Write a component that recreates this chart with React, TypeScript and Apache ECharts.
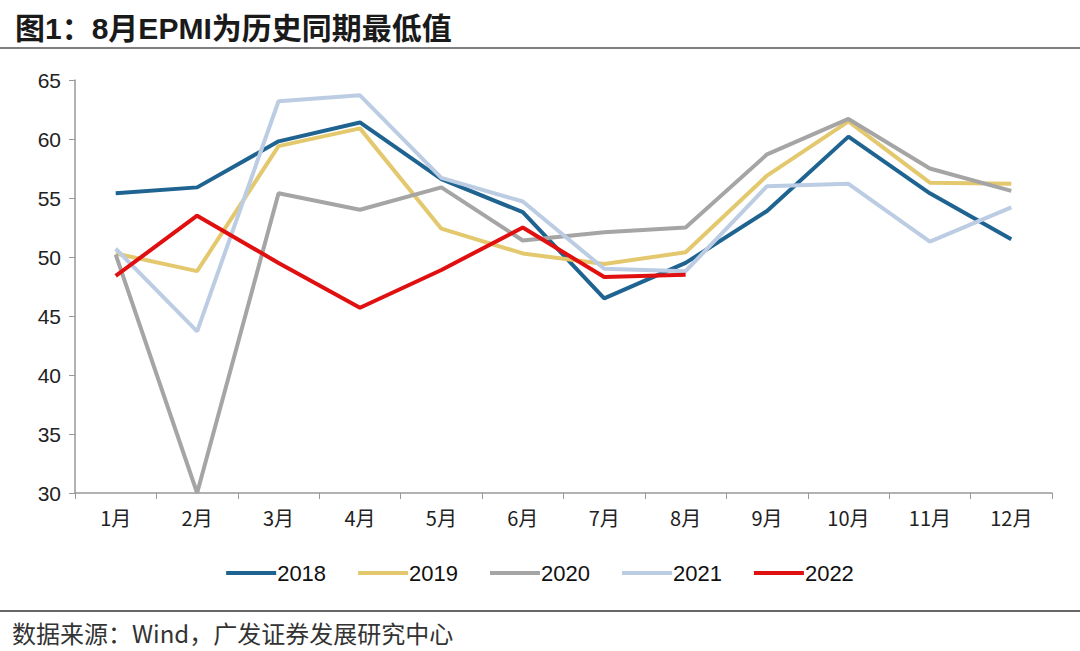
import React, { useEffect, useRef } from "react";
import * as echarts from "echarts";

const months = ["1月", "2月", "3月", "4月", "5月", "6月", "7月", "8月", "9月", "10月", "11月", "12月"];
const years = ["2018", "2019", "2020", "2021", "2022"];
const s2018 = [55.4, 55.9, 59.8, 61.4, 56.6, 53.8, 46.5, 49.5, 53.9, 60.2, 55.4, 51.5];
const s2019 = [50.3, 48.8, 59.4, 60.9, 52.4, 50.3, 49.4, 50.4, 56.9, 61.5, 56.3, 56.2];
const s2020 = [50.2, 30.0, 55.4, 54.0, 55.9, 51.4, 52.1, 52.5, 58.7, 61.7, 57.5, 55.6];
const s2021 = [50.7, 43.7, 63.2, 63.7, 56.7, 54.7, 49.0, 48.8, 56.0, 56.2, 51.3, 54.2];
const s2022 = [48.4, 53.5, 49.5, 45.7, 48.9, 52.5, 48.3, 48.5];
const seriesData = [s2018, s2019, s2020, s2021, s2022];
const colors = ["#1F6391", "#E3C86E", "#A5A5A5", "#BCCDE3", "#E01010"];

const titleText = "图1：8月EPMI为历史同期最低值";
const sourceText = "数据来源：Wind，广发证券发展研究中心";

export default function App() {
  const ref = useRef<HTMLDivElement>(null);
  useEffect(() => {
    if (!ref.current) return;
    const chart = echarts.init(ref.current, undefined, { renderer: "svg" });
    chart.setOption({
      animation: false,
      backgroundColor: "#fff",
      title: {
        text: titleText,
        left: 10,
        top: 8,
        textStyle: { fontSize: 30, fontWeight: "bold", color: "#1a1a1a", fontFamily: "Arial, 'Noto Sans CJK SC'" },
      },
      graphic: [
        { type: "line", shape: { x1: 0, y1: 48, x2: 1080, y2: 48 }, style: { stroke: "#555", lineWidth: 1.5 } },
        { type: "line", shape: { x1: 0, y1: 611, x2: 1080, y2: 611 }, style: { stroke: "#333", lineWidth: 1.5 } },
        {
          type: "text",
          left: 12,
          top: 620,
          style: { text: sourceText, fontSize: 24, fill: "#333", fontFamily: "'Noto Sans CJK SC', serif" },
        },
      ],
      legend: {
        data: years,
        bottom: 62,
        left: "center",
        itemWidth: 50,
        itemHeight: 4,
        itemGap: 32,
        icon: "rect",
        textStyle: { fontSize: 22, color: "#111", fontFamily: "Arial", padding: [0, 0, 0, -4] },
      },
      grid: { left: 75, right: 28, top: 80, bottom: 158, containLabel: false },
      xAxis: {
        type: "category",
        data: months,
        boundaryGap: true,
        axisLine: { lineStyle: { color: "#999", width: 1.5 } },
        axisTick: { show: true, length: 6, lineStyle: { color: "#999" } },
        axisLabel: { fontSize: 20, color: "#222", margin: 14, fontFamily: "'Noto Sans CJK SC', Arial" },
      },
      yAxis: {
        type: "value",
        min: 30,
        max: 65,
        interval: 5,
        axisLine: { show: true, lineStyle: { color: "#999", width: 1.5 } },
        axisTick: { show: true, length: 6, lineStyle: { color: "#999" } },
        splitLine: { show: false },
        axisLabel: { fontSize: 21, color: "#222", margin: 14, fontFamily: "Arial" },
      },
      series: years.map((y, i) => ({
        name: y,
        type: "line",
        data: seriesData[i],
        symbol: "none",
        color: colors[i],
        lineStyle: { width: 4, color: colors[i] },
        z: i === 4 ? 10 : 2 + i,
      })),
    });
    return () => chart.dispose();
  }, []);
  return <div ref={ref} style={{ position: "fixed", left: 0, top: 0, width: 1080, height: 651 }} />;
}
